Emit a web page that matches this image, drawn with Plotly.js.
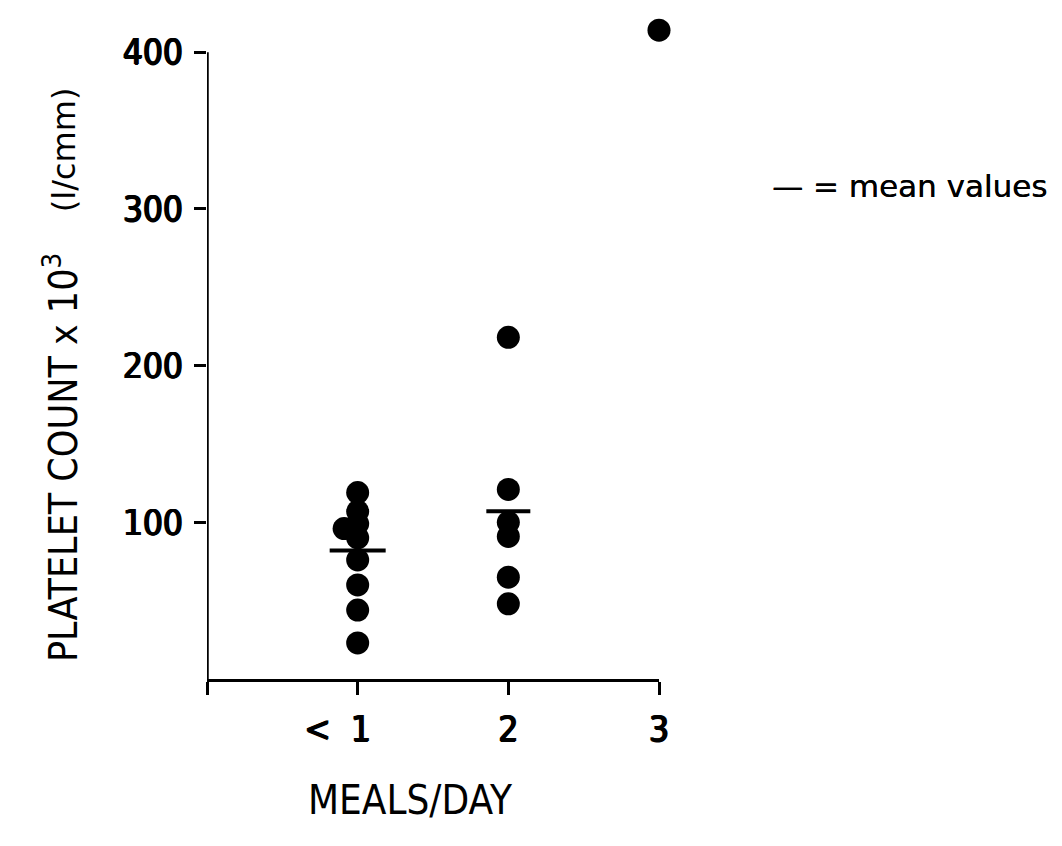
<!DOCTYPE html>
<html>
<head>
<meta charset="utf-8">
<script src="https://cdn.plot.ly/plotly-3.0.1.min.js"></script>
<style>
  html, body { margin: 0; padding: 0; background: #ffffff; }
  #chart { width: 1062px; height: 846px; }
</style>
</head>
<body>
<div id="chart"></div>
<script>
// Platelet count (x 10^3 per cmm) grouped by number of meals per day
const mealGroups = [1, 2, 3];
const mealLabels = ['< 1', '2', '3'];

// "< 1 meal/day" group (one point sits slightly left of the column)
const lessThanOneX = [1, 1, 1, 0.91, 1, 1, 1, 1, 1];
const lessThanOneY = [119, 107, 99, 96, 90, 76, 60, 44, 23];

// "2 meals/day" group
const twoMealsX = [2, 2, 2, 2, 2, 2];
const twoMealsY = [218, 121, 100, 91, 65, 48];

// "3 meals/day" group
const threeMealsX = [3];
const threeMealsY = [414];

// group means, drawn as short horizontal bars
const meanX = [1, 2];
const meanY = [82, 107];
const meanHalfLength = [28, 22];

const yTicks = [100, 200, 300, 400];
const yAxisTop = 400;

const condensed = '"DejaVu Sans Condensed", "Liberation Sans Narrow", "Arial Narrow", sans-serif';
const heavy = '0.9px 0 0 #000, -0.9px 0 0 #000, 0 0.6px 0 #000';

// plot area in pixels
const W = 1062, H = 846;
const plotLeft = 207, plotRight = 659, plotBottom = 679;
const yMax = 432;
const pxPerUnit = (679 - 52) / 400;
const plotTop = plotBottom - yMax * pxPerUnit;
const px = v => (v - plotLeft) / (plotRight - plotLeft);
const py = v => (plotBottom - v) / (plotBottom - plotTop);

const dotStyle = { color: '#000000', size: 23, line: { width: 0 } };

const traces = [
  { x: lessThanOneX, y: lessThanOneY, type: 'scatter', mode: 'markers', marker: dotStyle, cliponaxis: false, showlegend: false, hoverinfo: 'y' },
  { x: twoMealsX, y: twoMealsY, type: 'scatter', mode: 'markers', marker: dotStyle, cliponaxis: false, showlegend: false, hoverinfo: 'y' },
  { x: threeMealsX, y: threeMealsY, type: 'scatter', mode: 'markers', marker: dotStyle, cliponaxis: false, showlegend: false, hoverinfo: 'y' }
];

// each mean bar is a zero-length error bar whose cap forms the horizontal stroke
meanX.forEach((mx, i) => {
  traces.push({
    x: [mx], y: [meanY[i]], type: 'scatter', mode: 'markers', cliponaxis: false, showlegend: false, hoverinfo: 'y',
    marker: { size: 1, color: 'rgba(0,0,0,0)' },
    error_y: { type: 'constant', value: 0, width: meanHalfLength[i], thickness: 4, color: '#000000' }
  });
});

const layout = {
  width: W,
  height: H,
  paper_bgcolor: '#ffffff',
  plot_bgcolor: '#ffffff',
  showlegend: false,
  margin: { l: plotLeft, r: W - plotRight, t: plotTop, b: H - plotBottom, pad: 0 },
  font: { family: condensed, color: '#000000' },
  xaxis: {
    range: [0, 3],
    tickvals: [0].concat(mealGroups),
    ticktext: [''].concat(mealLabels.map((t, i) => i === 0 ? '<\u00a0\u00a01\u00a0\u00a0\u00a0\u00a0' : t)),
    showgrid: false,
    zeroline: false,
    showline: true,
    linecolor: '#000000',
    linewidth: 3,
    ticks: 'outside',
    ticklen: 13,
    tickwidth: 3,
    tickcolor: '#000000',
    ticklabelstandoff: 4,
    tickfont: { family: condensed, size: 35, color: '#000000', shadow: heavy },
    automargin: false
  },
  yaxis: {
    range: [0, yMax],
    tickvals: yTicks,
    ticktext: yTicks.map(String),
    showgrid: false,
    zeroline: false,
    showline: false,
    ticks: 'outside',
    ticklen: 12,
    tickwidth: 3,
    tickcolor: '#000000',
    ticklabelstandoff: 4,
    tickfont: { family: condensed, size: 35, color: '#000000', shadow: heavy },
    automargin: false
  },
  shapes: [
    // vertical axis line, stopping at the top tick
    { type: 'line', xref: 'x', yref: 'y', x0: 0, x1: 0, y0: 0, y1: yAxisTop, line: { color: '#000000', width: 3.5 } }
  ],
  annotations: [
    {
      xref: 'paper', yref: 'paper', x: px(410), y: py(800),
      xanchor: 'center', yanchor: 'middle', showarrow: false,
      text: 'MEALS/DAY',
      font: { family: condensed, size: 40, color: '#000000' }
    },
    {
      xref: 'paper', yref: 'paper', x: px(61), y: py(458),
      xanchor: 'center', yanchor: 'middle', textangle: -90, showarrow: false,
      text: 'PLATELET COUNT x 10<sup>3</sup>',
      font: { family: condensed, size: 39, color: '#000000' }
    },
    {
      xref: 'paper', yref: 'paper', x: px(64), y: py(150),
      xanchor: 'center', yanchor: 'middle', textangle: -90, showarrow: false,
      text: '(l/cmm)',
      font: { family: '"DejaVu Sans", sans-serif', size: 32, color: '#000000' }
    },
    {
      xref: 'paper', yref: 'paper', x: px(770), y: py(186),
      xanchor: 'left', yanchor: 'middle', showarrow: false,
      text: '\u2014 = mean values',
      font: { family: '"DejaVu Sans", sans-serif', size: 31, color: '#000000', shadow: '0.4px 0 0 #000' }
    }
  ]
};

Plotly.newPlot('chart', traces, layout, { staticPlot: true, displayModeBar: false });
</script>
</body>
</html>
